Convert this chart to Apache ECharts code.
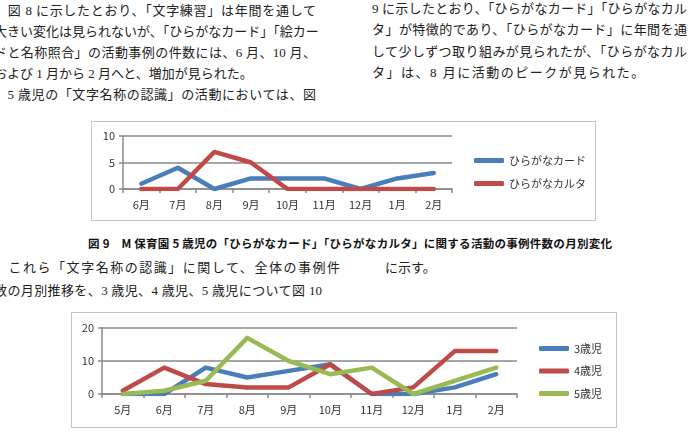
<!DOCTYPE html>
<html lang="ja">
<head>
<meta charset="utf-8">
<script src="https://cdn.jsdelivr.net/npm/echarts@6.0.0/dist/echarts.min.js"></script>
<style>
  html, body { margin: 0; padding: 0; background: #fff; }
  body { width: 694px; height: 444px; position: relative; overflow: hidden; }
  .ln { position: absolute; white-space: nowrap; color: #222;
        font-family: "Liberation Serif", "Noto Sans CJK JP", serif; font-size: 13px; line-height: 20px; }
  .jst { text-align: justify; text-align-last: justify; }
  .cap { font-family: "Noto Sans CJK JP", sans-serif; font-weight: bold; font-size: 11.5px; color: #111; }
  .box { position: absolute; box-sizing: border-box; border: 1px solid #c4c4c4; background: #fff; }
</style>
</head>
<body>
<div id="fig9" class="box" style="left:91px; top:121px; width:505px; height:100px;"></div>
<div id="fig10" class="box" style="left:71px; top:312px; width:546px; height:116px;"></div>
<script>
// figure 9 : 5-year-olds, hiragana card / karuta
var months9 = ['6月', '7月', '8月', '9月', '10月', '11月', '12月', '1月', '2月'];
var cardCounts = [1, 4, 0, 2, 2, 2, 0, 2, 3];
var karutaCounts = [0, 0, 7, 5, 0, 0, 0, 0, 0];

// figure 10 : all ages
var months10 = ['5月', '6月', '7月', '8月', '9月', '10月', '11月', '12月', '1月', '2月'];
var age3 = [0, 0, 8, 5, 7, 9, 0, 0, 2, 6];
var age4 = [1, 8, 3, 2, 2, 9, 0, 2, 13, 13];
var age5 = [0, 1, 4, 17, 10, 6, 8, 0, 4, 8];

// body text lines: [text, left, centerY, width (0 = not justified), letterSpacing]
var textLines = [
  ['　図 8 に示したとおり、「文字練習」は年間を通して', -6, 11, 322],
  ['大きい変化は見られないが、「ひらがなカード」「絵カー', -6, 32, 322],
  ['ドと名称照合」の活動事例の件数には、6 月、10 月、', -6, 53, 322],
  ['および 1 月から 2 月へと、増加が見られた。', -6, 74, 0],
  ['　5 歳児の「文字名称の認識」の活動においては、図', -6, 95, 322],
  ['9 に示したとおり、「ひらがなカード」「ひらがなカル', 372, 9, 315],
  ['タ」が特徴的であり、「ひらがなカード」に年間を通', 372, 30, 315],
  ['して少しずつ取り組みが見られたが、「ひらがなカル', 372, 52, 315],
  ['タ」は、8 月に活動のピークが見られた。', 372, 73, 0, 1.5],
  ['　これら「文字名称の認識」に関して、全体の事例件', -6, 268, 346],
  ['に示す。', 385, 268, 0],
  ['数の月別推移を、3 歳児、4 歳児、5 歳児について図 10', -6, 291, 328]
];
var caption9 = '図 9　M 保育園 5 歳児の「ひらがなカード」「ひらがなカルタ」に関する活動の事例件数の月別変化';

textLines.forEach(function (t) {
  var d = document.createElement('div');
  d.className = 'ln' + (t[3] ? ' jst' : '');
  d.textContent = t[0];
  d.style.left = t[1] + 'px';
  d.style.top = (t[2] - 10) + 'px';
  if (t[3]) d.style.width = t[3] + 'px';
  if (t[4]) d.style.letterSpacing = t[4] + 'px';
  document.body.appendChild(d);
});
var cap = document.createElement('div');
cap.className = 'ln jst cap';
cap.textContent = caption9;
cap.style.left = '88px';
cap.style.top = '233px';
cap.style.width = '524px';
document.body.appendChild(cap);

var axisGray = '#8a8a8a';
var labelFont = { color: '#333', fontSize: 11, fontFamily: 'Noto Sans CJK JP' };

function makeOption(months, yMax, yInterval, grid, legendPos, series) {
  return {
    animation: false,
    grid: grid,
    legend: {
      orient: 'vertical',
      left: legendPos[0],
      top: legendPos[1],
      padding: 0,
      itemWidth: 30,
      itemHeight: 5,
      itemGap: legendPos[2],
      icon: 'roundRect',
      textStyle: { color: '#333', fontSize: 11, fontFamily: 'Noto Sans CJK JP' },
      data: series.map(function (s) { return s.name; })
    },
    xAxis: {
      type: 'category',
      data: months,
      boundaryGap: true,
      axisLine: { lineStyle: { color: axisGray, width: 1.5 } },
      axisTick: { show: true, length: 4, lineStyle: { color: axisGray, width: 1.5 } },
      axisLabel: Object.assign({ margin: 10 }, labelFont),
      splitLine: { show: false }
    },
    yAxis: {
      type: 'value',
      min: 0,
      max: yMax,
      interval: yInterval,
      axisLine: { show: true, lineStyle: { color: axisGray, width: 1.5 } },
      axisTick: { show: true, length: 4, lineStyle: { color: axisGray, width: 1.5 } },
      axisLabel: Object.assign({ margin: 8 }, labelFont),
      splitLine: { lineStyle: { color: axisGray, width: 1.5 } }
    },
    series: series.map(function (s) {
      return {
        name: s.name,
        type: 'line',
        data: s.data,
        symbol: 'none',
        lineStyle: { width: 4.5, color: s.color, cap: 'round', join: 'round' },
        itemStyle: { color: s.color }
      };
    })
  };
}

var chart9 = echarts.init(document.getElementById('fig9'), null, { renderer: 'canvas' });
chart9.setOption(makeOption(months9, 10, 5,
  { left: 31, top: 14, width: 329, height: 53 },
  [382, 33, 12],
  [
    { name: 'ひらがなカード', data: cardCounts, color: '#4a7ebb' },
    { name: 'ひらがなカルタ', data: karutaCounts, color: '#be4b48' }
  ]));

var chart10 = echarts.init(document.getElementById('fig10'), null, { renderer: 'canvas' });
chart10.setOption(makeOption(months10, 20, 10,
  { left: 30, top: 15, width: 415, height: 66 },
  [467, 30, 11.5],
  [
    { name: '3歳児', data: age3, color: '#4a7ebb' },
    { name: '4歳児', data: age4, color: '#be4b48' },
    { name: '5歳児', data: age5, color: '#98b954' }
  ]));

window.addEventListener('resize', function () { chart9.resize(); chart10.resize(); });
</script>
</body>
</html>
